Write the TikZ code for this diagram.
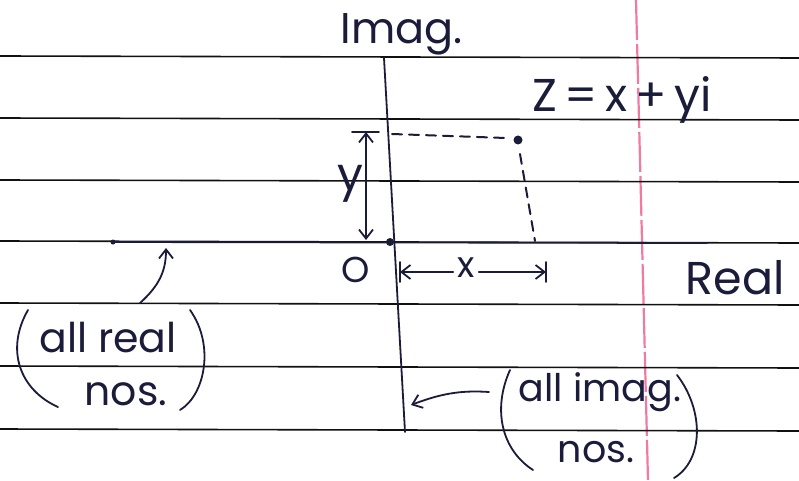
\documentclass[tikz,border=0pt]{standalone}
\usepackage{fontspec}
\setmainfont{Poppins}
\usetikzlibrary{arrows.meta}
\definecolor{ink}{HTML}{1B1B3A}
\definecolor{rule}{HTML}{111111}
\definecolor{margin}{HTML}{F07AA0}
\tikzset{
  ruled/.style={draw=rule, line width=1.6pt},
  pen/.style={draw=ink, line width=1.8pt, line cap=round},
  hand/.style={text=ink, inner sep=0pt, font=\fontsize{41}{43}\selectfont},
  penarrow/.style={pen, -{Straight Barb[length=9pt,width=14pt]}},
  dashpen/.style={pen, line width=2pt, dash pattern=on 10pt off 7pt}
}
\begin{document}
\begin{tikzpicture}[x=1pt,y=-1pt]
\useasboundingbox (0,0) rectangle (799,481);
\fill[white] (0,0) rectangle (799,481);
% pink margin
\draw[margin, line width=2.2pt, dash pattern=on 40pt off 4pt] (636,0) -- (648,481);
% ruled lines
\foreach \y in {56,118,180,241,303,366,429}
  \draw[ruled] (0,\y) -- (799,\y+2);
% axes
\coordinate (itop) at (384,58);
\coordinate (ibot) at (405,432);
\coordinate (rleft) at (113,242);
\coordinate (rright) at (707,243);
\draw[pen] (itop) -- (ibot);
\draw[pen] (rleft) -- (rright);
\fill[ink] (rleft) circle (2.5pt);
\fill[ink] (390,242) coordinate (o) circle (4pt);
% point z
\coordinate (zp) at (518,140);
\fill[ink] (zp) circle (4.5pt);
\coordinate (ydash) at (392,134);
\coordinate (xdash) at (535,241);
\draw[dashpen] (ydash) -- (506,138);
\draw[dashpen] (520,154) -- (xdash);
% y measure
\coordinate (yt) at (366,132);
\coordinate (yb) at (366,240);
\draw[pen] (352,132) -- (379,132);
\draw[pen, {Straight Barb[length=9pt,width=14pt]}-{Straight Barb[length=9pt,width=14pt]}] (yt) -- (yb);
\node[hand, font=\fontsize{46}{48}\selectfont] (ylab) at (350,184) {y};
% x measure
\node[hand, font=\fontsize{36}{38}\selectfont] (xlab) at (466,268) {x};
\coordinate (xl) at (400,272);
\coordinate (xr) at (546,272);
\draw[pen] (400,262) -- (400,282);
\draw[pen] (546,262) -- (546,282);
\draw[penarrow] (xlab.west) ++(-4,4) -- (xl);
\draw[penarrow] (xlab.east) ++(4,4) -- (xr);
% labels
\node[hand, font=\fontsize{43}{45}\selectfont] (imag) at (402,34) {Imag.};
\node[hand, font=\fontsize{46}{48}\selectfont] (z) at (622,100) {Z\,=\,x\,+\,yi};
\node[hand, font=\fontsize{36}{38}\selectfont] (O) at (356,270) {O};
\node[hand, font=\fontsize{46}{48}\selectfont] (real) at (735,278) {Real};
% all real nos.
\node[hand] (allreal) at (108,338) {all real};
\node[hand] (realnos) at (126,394) {nos.};
\draw[pen] (28,310) .. controls (5,350) and (20,390) .. (58,407);
\draw[pen] (190,310) .. controls (215,345) and (205,395) .. (180,410);
\draw[penarrow] (140,303) .. controls (160,285) and (166,270) .. (166,248);
% all imag nos.
\node[hand, font=\fontsize{38}{40}\selectfont] (allimag) at (600,392) {all imag.};
\node[hand, font=\fontsize{38}{40}\selectfont] (imagnos) at (596,452) {nos.};
\draw[pen] (510,370) .. controls (492,410) and (502,450) .. (533,470);
\draw[pen] (677,375) .. controls (704,410) and (704,460) .. (674,478);
\draw[penarrow] (489,392) .. controls (460,390) and (440,394) .. (411,405);
\end{tikzpicture}
\end{document}
